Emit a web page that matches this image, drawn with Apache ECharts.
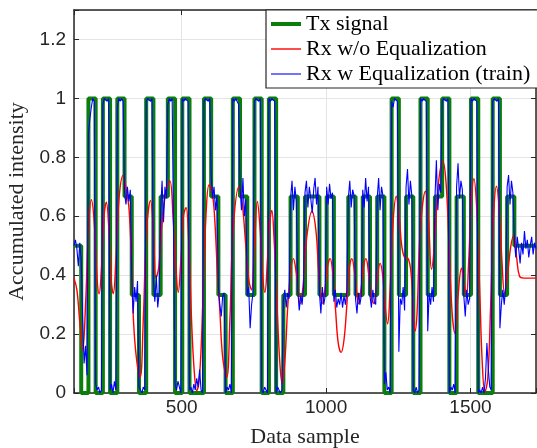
<!DOCTYPE html>
<html><head><meta charset="utf-8">
<script src="https://cdn.jsdelivr.net/npm/echarts@6/dist/echarts.min.js"></script>
<style>html,body{margin:0;padding:0;background:#fff}#c{width:537px;height:448px}</style>
</head><body><div id="c"></div>
<script>
// ---- data ----
const seriesNames = ['Tx signal', 'Rx w/o Equalization', 'Rx w Equalization (train)'];
const xTickValues = [500, 1000, 1500];
const yTickValues = [0, 0.2, 0.4, 0.6, 0.8, 1, 1.2];

// Tx signal: symbol edges and level held from each edge
const txX = [127, 152, 177, 202, 227, 252, 277, 302, 327, 352, 377, 402, 427, 452, 477, 502, 527, 552, 577, 602,
  627, 652, 677, 702, 727, 752, 777, 802, 827, 852, 877, 902, 927, 952, 977, 1002, 1027, 1052, 1077, 1102,
  1127, 1152, 1177, 1202, 1227, 1252, 1277, 1302, 1327, 1352, 1377, 1402, 1427, 1452, 1477, 1502, 1527, 1552, 1577, 1602,
  1627, 1652, 1727];
const txY = [0.5, 0, 1, 0, 1, 0, 1, 0.667, 0.333, 0, 1, 0.333, 0.667, 1, 0, 1, 0, 0, 1, 0.667, 0.333,
  0, 1, 0.667, 0.333, 1, 0, 1, 0, 0.333, 0.667, 0.333, 0.667, 0.667, 0.333, 0.667, 0.333, 0.333, 0.667, 0.333, 0.667,
  0.333, 0.667, 0, 1, 0.333, 0.667, 0, 1, 0.333, 0.667, 1, 0, 0.667, 0.333, 1, 0, 0, 1, 0.333, 0.667,
  0.5, 0.5];

// Rx without equalization (smooth curve), [sample, intensity]
const rxPoints = [
  [127, 0.39], [137, 0.35], [147, 0.24], [157, 0.145], [167, 0.30], [177, 0.55], [187, 0.656], [197, 0.58],
  [206, 0.40], [214, 0.337], [222, 0.42], [231, 0.60], [239, 0.648], [248, 0.55], [256, 0.38], [263, 0.337],
  [272, 0.45], [283, 0.66], [297, 0.738], [308, 0.69], [318, 0.62], [326, 0.44], [333, 0.246], [343, 0.12],
  [356, 0.053], [367, 0.25], [378, 0.55], [392, 0.653], [402, 0.55], [411, 0.39], [421, 0.43], [432, 0.58],
  [445, 0.68], [459, 0.72], [470, 0.60], [480, 0.42], [488, 0.342], [497, 0.45], [506, 0.60], [515, 0.63],
  [524, 0.52], [534, 0.25], [543, 0.08], [552, 0.008], [562, 0.06], [573, 0.30], [584, 0.60], [595, 0.707],
  [606, 0.68], [615, 0.58], [624, 0.40], [632, 0.28], [642, 0.12], [656, 0.053], [667, 0.25], [678, 0.55],
  [698, 0.70], [710, 0.64], [722, 0.50], [733, 0.38], [742, 0.35], [752, 0.50], [762, 0.65], [772, 0.55],
  [781, 0.39], [788, 0.342], [797, 0.45], [805, 0.58], [812, 0.62], [820, 0.52], [830, 0.30], [840, 0.10],
  [848, 0.03], [858, 0.12], [870, 0.33], [887, 0.456], [898, 0.40], [910, 0.303], [920, 0.36], [932, 0.52],
  [951, 0.617], [965, 0.55], [975, 0.40], [986, 0.303], [996, 0.35], [1005, 0.43], [1014, 0.456], [1024, 0.40],
  [1033, 0.28], [1042, 0.17], [1052, 0.138], [1062, 0.18], [1072, 0.30], [1080, 0.42], [1089, 0.456], [1100, 0.40],
  [1112, 0.303], [1122, 0.36], [1130, 0.43], [1138, 0.456], [1148, 0.40], [1158, 0.32], [1166, 0.303], [1176, 0.38],
  [1187, 0.44], [1196, 0.40], [1205, 0.29], [1213, 0.235], [1222, 0.36], [1232, 0.58], [1243, 0.668], [1253, 0.60],
  [1262, 0.50], [1272, 0.46], [1285, 0.455], [1295, 0.40], [1302, 0.28], [1308, 0.21], [1315, 0.27], [1326, 0.55],
  [1344, 0.685], [1355, 0.58], [1365, 0.42], [1375, 0.50], [1388, 0.70], [1404, 0.787], [1415, 0.72], [1425, 0.52],
  [1436, 0.28], [1446, 0.203], [1457, 0.33], [1469, 0.424], [1478, 0.37], [1486, 0.33], [1494, 0.45], [1503, 0.65],
  [1512, 0.727], [1522, 0.62], [1532, 0.35], [1541, 0.10], [1550, 0.004], [1560, 0.05], [1570, 0.30], [1580, 0.60],
  [1590, 0.702], [1600, 0.62], [1609, 0.45], [1618, 0.34], [1628, 0.40], [1640, 0.50], [1650, 0.535], [1660, 0.46],
  [1670, 0.396], [1685, 0.39], [1727, 0.39]
];

// Rx with equalization: one value every 5 samples starting at eqStart
const eqStart = 127, eqStep = 5;
const eqY = [
  0.50, 0.52, 0.49, 0.43, 0.51,
  0.45, 0.25, 0.10, 0.16, 0.06,   0.88, 0.93, 0.97, 1.00, 0.99,   0.03, 0.01, 0.02, 0.00, 0.01,
  0.98, 1.00, 1.00, 0.99, 1.00,   0.01, 0.03, 0.00, 0.04, 0.01,   0.97, 1.00, 0.99, 1.00, 0.99,
  0.68, 0.64, 0.70, 0.65, 0.69,   0.40, 0.27, 0.36, 0.31, 0.38,   0.02, 0.01, 0.00, 0.02, 0.01,
  0.99, 1.00, 1.00, 0.99, 1.00,   0.38, 0.31, 0.40, 0.29, 0.34,   0.62, 0.72, 0.58, 0.70, 0.66,
  0.98, 1.00, 0.99, 1.00, 1.00,   0.03, 0.01, 0.04, 0.02, 0.00,   1.00, 0.99, 1.00, 1.00, 0.99,
  0.01, 0.02, 0.00, 0.03, 0.01,   0.05, 0.02, 0.08, 0.01, 0.00,   0.99, 1.00, 1.00, 0.99, 1.00,
  0.74, 0.66, 0.70, 0.62, 0.67,   0.36, 0.30, 0.26, 0.33, 0.34,   0.00, 0.02, 0.01, 0.03, 0.00,
  1.00, 0.99, 1.00, 1.00, 0.98,   0.70, 0.62, 0.73, 0.60, 0.66,   0.33, 0.36, 0.22, 0.30, 0.34,
  0.99, 1.00, 1.00, 0.99, 1.00,   0.01, 0.00, 0.02, 0.01, 0.00,   1.00, 0.99, 1.00, 1.00, 0.99,
  0.00, 0.02, 0.01, 0.00, 0.01,   0.31, 0.35, 0.29, 0.34, 0.32,   0.66, 0.72, 0.62, 0.70, 0.65,
  0.35, 0.28, 0.33, 0.30, 0.36,   0.68, 0.72, 0.63, 0.70, 0.66,   0.61, 0.69, 0.73, 0.64, 0.70,
  0.34, 0.27, 0.36, 0.30, 0.33,   0.70, 0.64, 0.71, 0.66, 0.68,   0.31, 0.35, 0.29, 0.32, 0.30,
  0.34, 0.29, 0.33, 0.30, 0.35,   0.66, 0.72, 0.63, 0.69, 0.67,   0.32, 0.27, 0.34, 0.30, 0.33,
  0.69, 0.63, 0.73, 0.65, 0.70,   0.33, 0.29, 0.35, 0.31, 0.30,   0.66, 0.73, 0.62, 0.70, 0.67,
  0.03, 0.07, 0.01, 0.02, 0.00,   0.99, 0.97, 1.00, 1.00, 0.99,   0.14, 0.32, 0.30, 0.36, 0.28,
  0.70, 0.76, 0.64, 0.72, 0.67,   0.01, 0.00, 0.02, 0.00, 0.01,   1.00, 0.99, 1.00, 1.00, 0.99,
  0.21, 0.34, 0.30, 0.36, 0.31,   0.66, 0.79, 0.62, 0.71, 0.68,   0.99, 1.00, 1.00, 0.99, 1.00,
  0.00, 0.02, 0.01, 0.03, 0.00,   0.70, 0.78, 0.66, 0.72, 0.69,   0.33, 0.26, 0.35, 0.30, 0.32,
  1.00, 0.99, 1.00, 1.00, 0.99,   0.00, 0.01, 0.00, 0.02, 0.00,   0.05, 0.17, 0.08, 0.02, 0.01,
  0.99, 1.00, 1.00, 0.99, 1.00,   0.22, 0.30, 0.35, 0.30, 0.36,   0.70, 0.74, 0.64, 0.72, 0.68,
  0.52, 0.46, 0.53, 0.49, 0.44, 0.51, 0.47, 0.55, 0.49, 0.52, 0.46, 0.50, 0.53, 0.47, 0.51, 0.49
];

// ---- build ----
const txData = txX.map((x, i) => [x, txY[i]]);
const eqData = eqY.map((y, i) => [eqStart + i * eqStep, y]);

const near = (v, list) => list.some(t => Math.abs(t - v) < 1e-6);
const axisColor = '#262626';
const gridColor = '#e4e4e4';
const tickFont = 'Liberation Sans, Arial, sans-serif';
const serif = 'Liberation Serif, Times New Roman, serif';
const colors = ['#0b7d0b', '#ff0000', '#0000ff'];
const widths = [4, 1.4, 1.1];

const chart = echarts.init(document.getElementById('c'), null, {renderer: 'canvas'});
chart.setOption({
  animation: false,
  backgroundColor: '#fff',
  grid: {left: 74, top: 10, right: 1, bottom: 55, containLabel: false, outerBoundsMode: 'none'},
  legend: {
    orient: 'vertical', left: 266, top: 10,
    padding: [3, 10, 3, 3],
    itemWidth: 30, itemHeight: 14, itemGap: 3,
    backgroundColor: '#fff', borderColor: axisColor, borderWidth: 1.2, borderRadius: 0,
    itemStyle: {opacity: 0},
    textStyle: {fontFamily: serif, fontSize: 22, color: '#000'},
    data: seriesNames.map((n, i) => ({name: n, lineStyle: {width: widths[i], color: colors[i]}}))
  },
  xAxis: [{
    type: 'value', min: 127, max: 1727, splitNumber: 3, position: 'bottom',
    axisLine: {show: true, onZero: false, lineStyle: {color: axisColor, width: 1.5}},
    axisTick: {show: true, inside: true, length: 5, lineStyle: {color: axisColor, width: 1}},
    axisLabel: {fontFamily: tickFont, fontSize: 19, color: axisColor, margin: 5,
      formatter: v => near(v, xTickValues) ? String(v) : ''},
    splitLine: {show: true, lineStyle: {color: gridColor, width: 1}},
    name: 'Data sample', nameLocation: 'middle', nameGap: 33,
    nameTextStyle: {fontFamily: serif, fontSize: 22, color: axisColor}
  }, {
    type: 'value', min: 127, max: 1727, splitNumber: 3, position: 'top',
    axisLine: {show: true, onZero: false, lineStyle: {color: axisColor, width: 1.5}},
    axisTick: {show: true, inside: true, length: 5, lineStyle: {color: axisColor, width: 1}},
    axisLabel: {show: false}, splitLine: {show: false}
  }],
  yAxis: [{
    type: 'value', min: 0, max: 1.3, interval: 0.2, position: 'left',
    axisLine: {show: true, onZero: false, lineStyle: {color: axisColor, width: 1.5}},
    axisTick: {show: true, inside: true, length: 5, lineStyle: {color: axisColor, width: 1}},
    axisLabel: {fontFamily: tickFont, fontSize: 19, color: axisColor, margin: 8,
      formatter: v => near(v, yTickValues) ? String(+v.toFixed(1)) : ''},
    splitLine: {show: true, lineStyle: {color: gridColor, width: 1}},
    name: 'Accumulated intensity', nameLocation: 'middle', nameGap: 44,
    nameTextStyle: {fontFamily: serif, fontSize: 22, color: axisColor}
  }, {
    type: 'value', min: 0, max: 1.3, interval: 0.2, position: 'right',
    axisLine: {show: true, onZero: false, lineStyle: {color: axisColor, width: 1.5}},
    axisTick: {show: true, inside: true, length: 5, lineStyle: {color: axisColor, width: 1}},
    axisLabel: {show: false}, splitLine: {show: false}
  }],
  series: [{
    name: seriesNames[0], type: 'line', step: 'end', data: txData,
    symbol: 'none', lineStyle: {color: colors[0], width: widths[0]}, itemStyle: {color: colors[0]}, z: 2
  }, {
    name: seriesNames[1], type: 'line', smooth: 0.4, data: rxPoints,
    symbol: 'none', lineStyle: {color: colors[1], width: widths[1]}, itemStyle: {color: colors[1]}, z: 3
  }, {
    name: seriesNames[2], type: 'line', data: eqData,
    symbol: 'none', lineStyle: {color: colors[2], width: widths[2]}, itemStyle: {color: colors[2]}, z: 4
  }]
});
</script></body></html>
